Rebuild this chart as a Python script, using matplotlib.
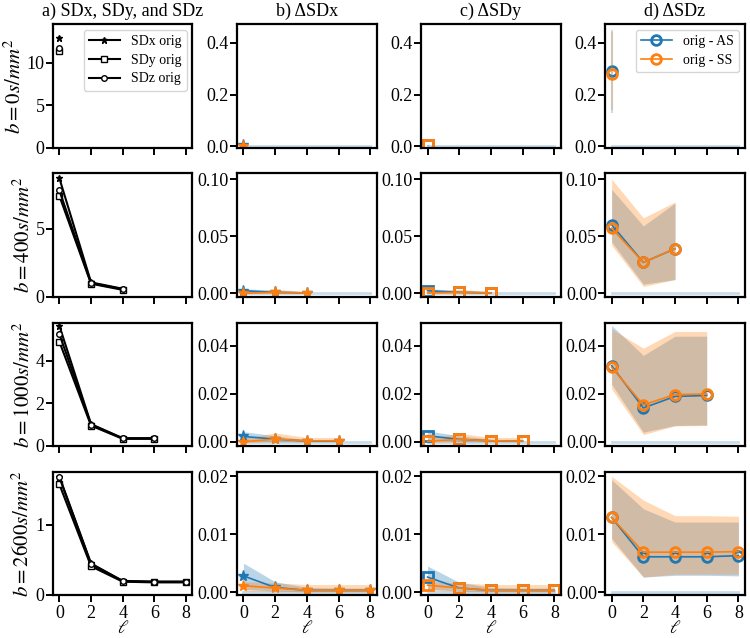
import matplotlib
matplotlib.use('Agg')
import matplotlib.pyplot as plt
from matplotlib.ticker import MultipleLocator

import numpy as np

# l values and b-values (one row per b)
ells = [0, 2, 4, 6, 8]
b_values = [0, 400, 1000, 2600]
titles = ['a) SDx, SDy, and SDz', 'b) ΔSDx', 'c) ΔSDy', 'd) ΔSDz']

# column a: original SD per b-value
sd_x = [[12.9], [8.7, 1.05, 0.58], [5.65, 1.02, 0.36, 0.36], [1.69, 0.45, 0.20, 0.19, 0.19]]
sd_y = [[11.3], [7.4, 0.95, 0.50], [4.9, 0.95, 0.33, 0.33], [1.58, 0.41, 0.19, 0.18, 0.18]]
sd_z = [[11.7], [7.8, 1.00, 0.55], [5.26, 1.00, 0.35, 0.35], [1.68, 0.44, 0.20, 0.19, 0.19]]

# column b: delta SDx (orig - AS / orig - SS), mean with lower/upper band
dx_as = [[0.005], [0.0022, 0.0008, 0.0003], [0.0022, 0.0011, 0.0003, 0.0003], [0.0028, 0.0008, 0.0003, 0.0003, 0.0003]]
dx_as_lo = [[0.003], [0.0008, 0.0, 0.0], [0.0005, 0.0, 0.0, 0.0], [0.0005, 0.0002, 0.0001, 0.0001, 0.0001]]
dx_as_hi = [[0.007], [0.0040, 0.0025, 0.0010], [0.0042, 0.0025, 0.0008, 0.0008], [0.0050, 0.0018, 0.0008, 0.0007, 0.0007]]
dx_ss = [[0.003], [0.0, 0.0008, 0.0003], [0.0, 0.0011, 0.0004, 0.0004], [0.0011, 0.0007, 0.0003, 0.0003, 0.0003]]
dx_ss_lo = [[0.001], [-0.0005, 0.0, 0.0], [-0.0005, 0.0, 0.0, 0.0], [0.0002, 0.0001, 0.0, 0.0, 0.0]]
dx_ss_hi = [[0.005], [0.0015, 0.0035, 0.0015], [0.0015, 0.0037, 0.0018, 0.0018], [0.0018, 0.0016, 0.0013, 0.0013, 0.0013]]

# column c: delta SDy
dy_as = [[0.004], [0.0022, 0.0008, 0.0003], [0.0025, 0.0010, 0.0004, 0.0003], [0.0026, 0.0007, 0.0003, 0.0003, 0.0003]]
dy_as_lo = [[0.002], [0.0008, 0.0, 0.0], [0.0006, 0.0, 0.0, 0.0], [0.0005, 0.0002, 0.0001, 0.0001, 0.0001]]
dy_as_hi = [[0.006], [0.0040, 0.0025, 0.0010], [0.0045, 0.0025, 0.0010, 0.0010], [0.0045, 0.0017, 0.0008, 0.0007, 0.0007]]
dy_ss = [[0.004], [0.0002, 0.0008, 0.0004], [0.0002, 0.0010, 0.0004, 0.0003], [0.0012, 0.0007, 0.0003, 0.0003, 0.0003]]
dy_ss_lo = [[0.002], [-0.0004, 0.0, 0.0], [-0.0004, 0.0, 0.0, 0.0], [0.0003, 0.0001, 0.0, 0.0, 0.0]]
dy_ss_hi = [[0.006], [0.0015, 0.0035, 0.0015], [0.0015, 0.0035, 0.0018, 0.0018], [0.0018, 0.0016, 0.0013, 0.0013, 0.0013]]

# column d: delta SDz
dz_as = [[0.29], [0.060, 0.027, 0.039], [0.0317, 0.0141, 0.0189, 0.0193], [0.0129, 0.0061, 0.0061, 0.0061, 0.0063]]
dz_as_lo = [[0.13], [0.045, 0.008, 0.012], [0.024, 0.004, 0.0068, 0.0070], [0.0093, 0.0026, 0.0029, 0.0029, 0.0028]]
dz_as_hi = [[0.45], [0.091, 0.059, 0.079], [0.0485, 0.036, 0.044, 0.044], [0.0194, 0.0144, 0.0121, 0.0121, 0.0121]]
dz_ss = [[0.28], [0.057, 0.027, 0.039], [0.0310, 0.0154, 0.0197, 0.0199], [0.0129, 0.0069, 0.0069, 0.0069, 0.0070]]
dz_ss_lo = [[0.14], [0.042, 0.006, 0.012], [0.022, 0.003, 0.0066, 0.0068], [0.0087, 0.0026, 0.0031, 0.0031, 0.0031]]
dz_ss_hi = [[0.44], [0.100, 0.066, 0.080], [0.047, 0.039, 0.046, 0.046], [0.0200, 0.0159, 0.0132, 0.0132, 0.0131]]

deltas = [
	(dx_as, dx_as_lo, dx_as_hi, dx_ss, dx_ss_lo, dx_ss_hi),
	(dy_as, dy_as_lo, dy_as_hi, dy_ss, dy_ss_lo, dy_ss_hi),
	(dz_as, dz_as_lo, dz_as_hi, dz_ss, dz_ss_lo, dz_ss_hi),
]

# axis limits and tick steps per row
ylim_a = [(0, 14.5), (0, 9.05), (0, 5.8), (0, 1.76)]
ystep_a = [5, 5, 2, 1]
ylim_d = [(-0.004, 0.471), (-0.003, 0.105), (-0.0017, 0.0497), (-0.0005, 0.0208)]
ystep_d = [0.2, 0.05, 0.02, 0.01]

plt.rcParams['font.family'] = ['Liberation Serif', 'DejaVu Serif']
plt.rcParams['mathtext.fontset'] = 'stix'
plt.rcParams['font.size'] = 13
plt.rcParams['axes.linewidth'] = 1.6
plt.rcParams['xtick.major.width'] = 1.4
plt.rcParams['ytick.major.width'] = 1.4
plt.rcParams['xtick.major.size'] = 5
plt.rcParams['ytick.major.size'] = 5
plt.rcParams['xtick.major.pad'] = 2
plt.rcParams['ytick.major.pad'] = 1


def draw_delta(ax, row, col):
	mean_as, lo_as, hi_as, mean_ss, lo_ss, hi_ss = deltas[col]
	x = ells[:len(mean_as[row])]
	marker = ['*', 's', 'o'][col]
	ms = [8, 7, 7][col]
	# zero reference line
	ax.plot(ells, np.zeros(len(ells)), color='C0', alpha=0.25, lw=2, zorder=1)
	for (m, lo, hi, c, lab) in [(mean_as, lo_as, hi_as, 'C0', 'orig - AS'), (mean_ss, lo_ss, hi_ss, 'C1', 'orig - SS')]:
		if len(x) == 1:
			ax.vlines(x, lo[row], hi[row], color=c, alpha=0.25, lw=1.5)
		else:
			ax.fill_between(x, lo[row], hi[row], color=c, alpha=0.3, lw=0)
		if col == 0:
			ax.plot(x, m[row], color=c, marker=marker, ms=ms, lw=1.2, label=lab)
		else:
			ax.plot(x, m[row], color=c, marker=marker, ms=ms, mew=2, mfc='none', lw=1.2, label=lab)


def main():
	fig, axes = plt.subplots(4, 4, figsize=(7.5, 6.38), dpi=100)
	fig.subplots_adjust(left=0.0707, right=0.993, top=0.962, bottom=0.0674, wspace=0.32, hspace=0.21)

	for row in range(4):
		# column a
		ax = axes[row, 0]
		x = ells[:len(sd_x[row])]
		ax.plot(x, sd_x[row], color='k', marker='*', ms=5, lw=1.5, label='SDx orig')
		ax.plot(x, sd_y[row], color='k', marker='s', ms=5, mfc='white', lw=1.5, label='SDy orig')
		ax.plot(x, sd_z[row], color='k', marker='o', ms=4, mfc='white', lw=1.5, label='SDz orig')
		ax.set_ylim(*ylim_a[row])
		ax.yaxis.set_major_locator(MultipleLocator(ystep_a[row]))
		ax.set_ylabel('$b = %ds/mm^2$' % b_values[row], fontsize=15, labelpad=1)

		for col in range(3):
			dax = axes[row, col + 1]
			draw_delta(dax, row, col)
			dax.set_ylim(*ylim_d[row])
			dax.yaxis.set_major_locator(MultipleLocator(ystep_d[row]))

		for ax in axes[row]:
			ax.set_xlim(-0.4, 8.4)
			ax.set_xticks(ells)
			if row < 3:
				ax.set_xticklabels([])
			else:
				ax.set_xlabel(r'$\ell$', fontsize=13, labelpad=-1)

	for col in range(4):
		axes[0, col].set_title(titles[col], fontsize=13)

	axes[0, 0].legend(loc='upper right', fontsize=10, handlelength=2.2, borderaxespad=0.4, labelspacing=0.4)
	axes[0, 3].legend(loc='upper right', fontsize=10, handlelength=2.2, borderaxespad=0.4, labelspacing=0.4)

	fig.savefig('out.png', dpi=100)


if __name__ == '__main__':
	main()
